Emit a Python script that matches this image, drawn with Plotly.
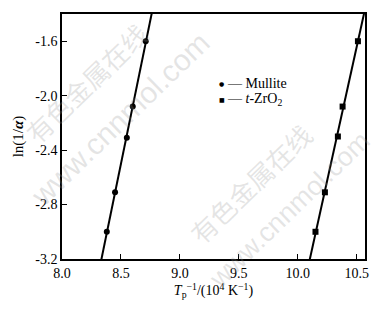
import numpy as np
import plotly.graph_objects as go

# Data
mullite_x = [8.38, 8.45, 8.55, 8.60, 8.71]
mullite_y = [-3.00, -2.71, -2.31, -2.08, -1.60]
zro2_x = [10.15, 10.23, 10.34, 10.38, 10.51]
zro2_y = [-3.00, -2.71, -2.30, -2.08, -1.60]

x_ticks = [8.0, 8.5, 9.0, 9.5, 10.0, 10.5]
y_ticks = [-3.2, -2.8, -2.4, -2.0, -1.6]

series_names = ["Mullite", "<i>t</i>-ZrO<sub>2</sub>"]

font_family = "Liberation Serif, Times New Roman, serif"

def fit_line(xs, ys, lo, hi):
    k, b = np.polyfit(xs, ys, 1)
    xx = np.array([lo, hi])
    return xx, k * xx + b

fig = go.Figure()

# watermark text (behind data)
wm_color = "rgba(150,150,150,0.25)"
for (xp, yp, txt, sz, fam) in [
    (0.08, 0.72, "有色金属在线", 26, "Noto Sans CJK SC"),
    (0.19, 0.57, "www.cnnmol.com", 30, "Liberation Sans"),
    (0.62, 0.31, "有色金属在线", 26, "Noto Sans CJK SC"),
    (0.75, 0.20, "www.cnnmol.com", 27, "Liberation Sans"),
]:
    fig.add_annotation(x=xp, y=yp, xref="paper", yref="paper", text=txt, showarrow=False,
                       xanchor="center", yanchor="middle",
                       textangle=-44, font=dict(size=sz, color=wm_color, family=fam))

mx, my = fit_line(mullite_x, mullite_y, 8.25, 8.85)
zx, zy = fit_line(zro2_x, zro2_y, 10.0, 10.65)

fig.add_trace(go.Scatter(x=mx, y=my, mode="lines", line=dict(color="black", width=2),
                         showlegend=False, hoverinfo="skip"))
fig.add_trace(go.Scatter(x=zx, y=zy, mode="lines", line=dict(color="black", width=2),
                         showlegend=False, hoverinfo="skip"))
fig.add_trace(go.Scatter(x=mullite_x, y=mullite_y, mode="markers", name=series_names[0],
                         marker=dict(symbol="circle", size=6, color="black"),
                         showlegend=False))
fig.add_trace(go.Scatter(x=zro2_x, y=zro2_y, mode="markers", name=series_names[1],
                         marker=dict(symbol="square", size=6, color="black"),
                         showlegend=False))

# legend drawn as text annotations
leg_rows = [(0.715, "\u25cf", 6, series_names[0]), (0.652, "\u25a0", 6, series_names[1])]
for yp, sym, ssz, name in leg_rows:
    fig.add_annotation(x=0.527, y=yp, xref="paper", yref="paper", xanchor="center",
                       yanchor="middle", text=sym, showarrow=False,
                       font=dict(size=ssz, color="black", family="DejaVu Sans"))
    fig.add_annotation(x=0.537, y=yp, xref="paper", yref="paper", xanchor="left",
                       yanchor="middle", text="\u2014 " + name, showarrow=False,
                       font=dict(size=14, color="black", family=font_family))

axis_common = dict(showgrid=False, zeroline=False, showline=True, linecolor="black",
                   linewidth=1.5, mirror=True, ticks="inside", ticklen=5, tickwidth=1,
                   tickcolor="black",
                   tickfont=dict(size=14, color="black", family=font_family))

fig.update_xaxes(range=[8.0, 10.57], tickvals=x_ticks,
                 ticktext=[f"{v:.1f}" for v in x_ticks],
                 title=dict(text="<i>T</i><sub>p</sub><sup>\u22121</sup>/(10<sup>4</sup> K<sup>\u22121</sup>)",
                            font=dict(size=14, color="black", family=font_family), standoff=4),
                 **axis_common)
fig.update_yaxes(range=[-3.2, -1.4], tickvals=y_ticks,
                 ticktext=[f"{v:.1f}" for v in y_ticks],
                 title=dict(text="ln(1/<i><b>\u03b1</b></i>)",
                            font=dict(size=15, color="black", family=font_family), standoff=8),
                 **axis_common)

fig.update_layout(width=377, height=311, margin=dict(l=62, r=8, t=14, b=52),
                  plot_bgcolor="white", paper_bgcolor="white", showlegend=False)

fig.write_html("out.html")
